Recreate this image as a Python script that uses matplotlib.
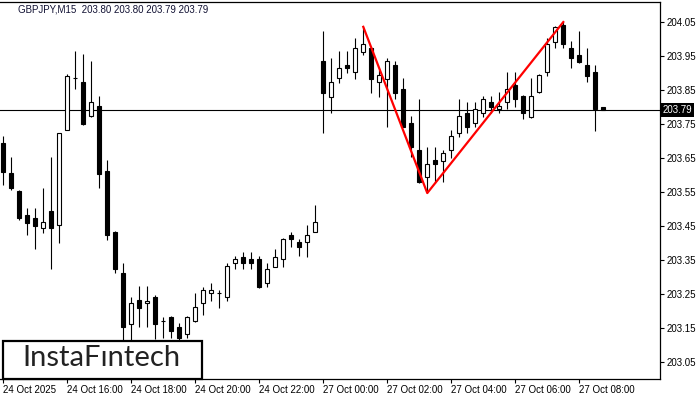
import numpy as np
import matplotlib
matplotlib.use("Agg")
import matplotlib.pyplot as plt
from matplotlib.patches import Rectangle

plt.rcParams['font.family'] = ['Liberation Sans', 'DejaVu Sans']

# GBPJPY M15, 24 Oct 14:00 .. 27 Oct 08:45
opens = [203.693, 203.605, 203.552, 203.482, 203.473, 203.443, 203.493, 203.452, 203.732, 203.885,
         203.873, 203.773, 203.802, 203.611, 203.432, 203.311, 203.161, 203.232, 203.223, 203.241,
         203.170, 203.182, 203.152, 203.132, 203.170, 203.223, 203.252, 203.252, 203.241, 203.341,
         203.358, 203.352, 203.352, 203.282, 203.329, 203.352, 203.423, 203.402, 203.402, 203.432,
         203.935, 203.829, 203.885, 203.923, 203.902, 203.961, 203.973, 203.873, 203.882, 203.923,
         203.852, 203.752, 203.673, 203.593, 203.643, 203.641, 203.673, 203.723, 203.782, 203.752,
         203.782, 203.814, 203.793, 203.814, 203.864, 203.832, 203.770, 203.843, 203.902, 203.990,
         204.040, 203.973, 203.952, 203.923, 203.902, 203.800]
highs = [203.714, 203.652, 203.555, 203.502, 203.502, 203.561, 203.652, 203.723, 203.895, 203.964,
         203.955, 203.935, 203.832, 203.643, 203.435, 203.341, 203.241, 203.273, 203.273, 203.245,
         203.182, 203.184, 203.164, 203.184, 203.252, 203.270, 203.282, 203.261, 203.341, 203.361,
         203.373, 203.373, 203.361, 203.341, 203.382, 203.414, 203.432, 203.411, 203.452, 203.511,
         204.023, 203.943, 203.964, 203.964, 204.002, 204.035, 203.976, 203.908, 203.943, 203.935,
         203.885, 203.773, 203.823, 203.682, 203.682, 203.673, 203.732, 203.823, 203.814, 203.814,
         203.832, 203.832, 203.843, 203.902, 203.902, 203.834, 203.885, 203.895, 204.002, 204.038,
         204.049, 203.993, 204.023, 203.973, 203.923, 203.800]
lows = [203.570, 203.555, 203.467, 203.423, 203.382, 203.429, 203.323, 203.399, 203.730, 203.852,
        203.747, 203.771, 203.561, 203.408, 203.311, 203.090, 203.100, 203.152, 203.152, 203.117,
        203.120, 203.120, 203.100, 203.120, 203.168, 203.188, 203.229, 203.208, 203.229, 203.323,
        203.323, 203.323, 203.268, 203.270, 203.327, 203.329, 203.388, 203.361, 203.358, 203.430,
        203.723, 203.782, 203.870, 203.899, 203.882, 203.952, 203.840, 203.829, 203.741, 203.823,
        203.739, 203.652, 203.577, 203.546, 203.576, 203.579, 203.649, 203.711, 203.723, 203.741,
        203.770, 203.782, 203.782, 203.793, 203.799, 203.764, 203.768, 203.841, 203.890, 203.973,
        203.973, 203.914, 203.930, 203.873, 203.729, 203.790]
closes = [203.608, 203.561, 203.473, 203.458, 203.449, 203.461, 203.443, 203.723, 203.890, 203.884,
          203.749, 203.814, 203.602, 203.423, 203.323, 203.152, 203.223, 203.208, 203.229, 203.161,
          203.170, 203.141, 203.120, 203.182, 203.211, 203.261, 203.261, 203.252, 203.332, 203.352,
          203.341, 203.341, 203.270, 203.323, 203.358, 203.411, 203.411, 203.388, 203.423, 203.461,
          203.840, 203.873, 203.914, 203.914, 203.973, 203.985, 203.882, 203.893, 203.935, 203.840,
          203.741, 203.682, 203.579, 203.632, 203.632, 203.664, 203.714, 203.773, 203.741, 203.793,
          203.823, 203.799, 203.802, 203.852, 203.823, 203.782, 203.832, 203.893, 203.985, 204.035,
          203.985, 203.943, 203.932, 203.890, 203.793, 203.790]

# double top lines: bar index and price
pattern_idx = [45, 53, 70]
pattern_price = [204.035, 203.546, 204.049]

tick_idx = [0, 8, 16, 24, 32, 40, 48, 56, 64, 72]
tick_labels = ["24 Oct 2025", "24 Oct 16:00", "24 Oct 18:00", "24 Oct 20:00", "24 Oct 22:00",
               "27 Oct 00:00", "27 Oct 02:00", "27 Oct 04:00", "27 Oct 06:00", "27 Oct 08:00"]
price_ticks = [203.05, 203.15, 203.25, 203.35, 203.45, 203.55, 203.65, 203.75, 203.85, 203.95, 204.05]
last_price = 203.79

fig = plt.figure(figsize=(7, 4), dpi=100)
ax = fig.add_axes([0.0, 21 / 400, 660 / 700, 377 / 400])

x = np.arange(len(opens))
o = np.array(opens)
c = np.array(closes)
up = c >= o

ax.vlines(x, lows, highs, color='black', lw=0.8, zorder=2)
bottoms = np.minimum(o, c)
heights = np.abs(c - o)
ax.bar(x[up], heights[up], bottom=bottoms[up], width=0.52, facecolor='white',
       edgecolor='black', lw=0.8, zorder=3)
ax.bar(x[~up], heights[~up], bottom=bottoms[~up], width=0.52, facecolor='black',
       edgecolor='black', lw=0.8, zorder=3)

ax.axhline(last_price, color='black', lw=0.8, zorder=1)
ax.plot(pattern_idx, pattern_price, color='red', lw=1.6, zorder=4)

ax.set_xlim(-0.41, 82.09)
ax.set_ylim(202.999, 204.108)

ax.set_xticks(tick_idx)
ax.set_xticklabels(tick_labels, ha='left', fontsize=7)
ax.tick_params(axis='x', length=3, width=0.8, pad=1)
ax.yaxis.tick_right()
ax.set_yticks(price_ticks)
ax.set_yticklabels([f"{p:.2f}" for p in price_ticks], fontsize=7)
ax.tick_params(axis='y', length=3, width=0.8, pad=2)
ax.spines['left'].set_visible(False)
for s in ['top', 'right', 'bottom']:
    ax.spines[s].set_linewidth(0.9)

# current price marker on the price scale
ax.text(1.004, last_price, "203.79", transform=ax.get_yaxis_transform(), fontsize=7,
        color='white', va='center', ha='left',
        bbox=dict(facecolor='black', edgecolor='none', pad=1.2))

ax.text(18 / 660, 1 - 8 / 377, "GBPJPY,M15  203.80 203.80 203.79 203.79", transform=ax.transAxes,
        fontsize=7, color='#111133', va='center', ha='left')

fig.add_artist(Rectangle((2.7 / 700, 21.5 / 400), 199 / 700, 38 / 400, transform=fig.transFigure,
                         facecolor='white', edgecolor='black', lw=1.6, zorder=10))
fig.text(22 / 700, 41.5 / 400, "InstaFıntech", fontsize=21, color='#222222', va='center',
         ha='left', family='Lato', zorder=11)

fig.savefig("out.png", dpi=100)
